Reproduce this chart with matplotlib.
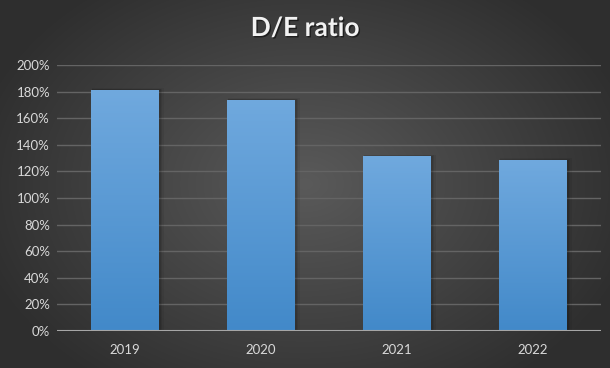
import numpy as np
import matplotlib
matplotlib.use('Agg')
import matplotlib.pyplot as plt
import matplotlib.patheffects as pe
from matplotlib.ticker import FuncFormatter

years = ['2019', '2020', '2021', '2022']
de_ratio = [181.2, 173.7, 131.5, 128.5]   # percent
yticks = [0, 20, 40, 60, 80, 100, 120, 140, 160, 180, 200]

plt.rcParams['font.family'] = ['Lato', 'DejaVu Sans']

fig = plt.figure(figsize=(6.1, 3.68), dpi=100)

# radial grey background
bg = fig.add_axes([0, 0, 1, 1], zorder=-10)
bg.axis('off')
yy, xx = np.mgrid[0:1:368j, 0:1:610j]
r = np.sqrt(((xx - 0.5) / 0.75) ** 2 + ((yy - 0.5) / 0.9) ** 2)
r = np.clip(r / 0.75, 0, 1)
c0 = np.array([0x5a, 0x5a, 0x5a]) / 255
c1 = np.array([0x2e, 0x2e, 0x2e]) / 255
img = c0[None, None, :] * (1 - r[..., None]) + c1[None, None, :] * r[..., None]
bg.imshow(img, aspect='auto', extent=[0, 1, 0, 1], origin='upper')
bg.set_xlim(0, 1)
bg.set_ylim(0, 1)

ax = fig.add_axes([57 / 610, 1 - 331 / 368, 544 / 610, 266 / 368])
ax.patch.set_alpha(0)
x = np.arange(len(years))
bars = ax.bar(x, de_ratio, width=0.5, color='none', zorder=3)

# soft shadows + vertical gradient fill on bars
top = np.array([0x70, 0xa9, 0xde]) / 255
bot = np.array([0x42, 0x89, 0xc9]) / 255
grad = np.linspace(0, 1, 256)[:, None]
gimg = top[None, None, :] * (1 - grad[..., None]) + bot[None, None, :] * grad[..., None]
for b in bars:
    bx, bw, bh = b.get_x(), b.get_width(), b.get_height()
    for k, a in [(0.03, 0.06), (0.02, 0.08), (0.01, 0.10)]:
        ax.add_patch(plt.Rectangle((bx + 0.004, 0), bw + k, bh + k * 40, color='black',
                                   alpha=a, lw=0, zorder=2))
    im = ax.imshow(gimg, extent=[bx, bx + bw, 0, bh], aspect='auto', zorder=3)
    im.set_clip_path(b)

ax.set_xlim(-0.5, len(years) - 0.5)
ax.set_ylim(0, 200)
ax.set_xticks(x)
ax.set_xticklabels(years)
ax.set_yticks(yticks)
ax.yaxis.set_major_formatter(FuncFormatter(lambda v, p: f'{int(v)}%'))
ax.tick_params(length=0, colors='#d9d9d9', labelsize=9.5)
ax.tick_params(axis='x', pad=9)
ax.tick_params(axis='y', pad=5)
for s in ax.spines.values():
    s.set_visible(False)
ax.grid(axis='y', color='#646464', lw=1, zorder=0)
ax.axhline(0, color='#a6a6a6', lw=1.5, zorder=4)

fig.text(0.5, 1 - 28 / 368, 'D/E ratio', ha='center', va='center', color='#f2f2f2',
         fontsize=19, fontweight='bold',
         path_effects=[pe.withSimplePatchShadow(offset=(1, -1), shadow_rgbFace='black', alpha=0.5)])

fig.savefig('out.png', dpi=100)
